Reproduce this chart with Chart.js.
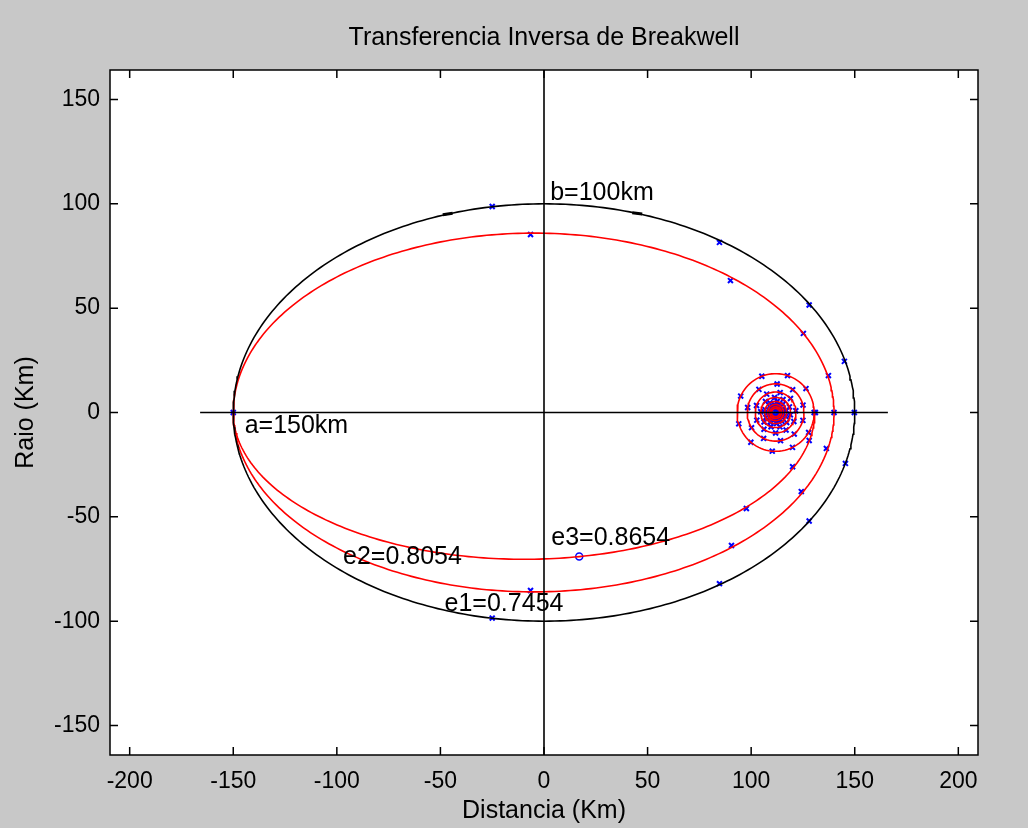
<!DOCTYPE html>
<html>
<head>
<meta charset="utf-8">
<title>Transferencia Inversa de Breakwell</title>
<script src="https://cdn.jsdelivr.net/npm/chart.js@4.4.1/dist/chart.umd.min.js"></script>
<style>
  html, body { margin: 0; padding: 0; background: #c8c8c8; }
  #wrap { width: 1028px; height: 828px; }
</style>
</head>
<body>
<div id="wrap"><canvas id="orbitChart" width="1028" height="828"></canvas></div>
<script>
// Orbit parameters (km)
const semiMajor = 150;
const semiMinor = 100;
const eccentricities = [0.7454, 0.8054, 0.8654];

// Axis ticks
const xTicks = [-200, -150, -100, -50, 0, 50, 100, 150, 200];
const yTicks = [-150, -100, -50, 0, 50, 100, 150];

// Sampled positions along each orbit
const e1Marks = [[-25, 98.7], [84.7, 81.5], [128, 51.5], [145, 24.5], [149.8, 0], [145.5, -24.4], [128, -52], [84.7, -82], [-25, -98.5], [-150, 0]];
const e2Marks = [[-6.5, 85.3], [90, 63.2], [125.2, 37.9], [137.3, 17.7], [140, 0], [136.3, -17.2], [124.2, -37.9], [90.5, -63.7], [-6.5, -85.3]];
const e3Marks = [[97.7, -46], [120, -26], [128, -13.4], [131, 0]];
const e3Start = [[17, -69]];
// short dark dashes on the outer orbit
const e1Dashes = [[-46.5, 95.1, -8], [45, 95.4, 8]];

// Final rings around the focus (radius in km)
const ringRadii = [18.6, 13.7, 9.8, 7.2, 5.3, 3.9, 2.8, 2.0];
const ringMarkAngles = [0, 38, 72, 111, 155, 197, 230, 265, 296, 329];
const ringMarkShift = [0, 15, 5, 22, 10, 27, 8, 18];

// Text annotations (left edge, vertical middle)
const annotations = [
  { text: "b=100km", x: 3, y: 105 },
  { text: "a=150km", x: -144.5, y: -6.7 },
  { text: "e3=0.8654", x: 3.5, y: -60 },
  { text: "e2=0.8054", x: -97, y: -69.5 },
  { text: "e1=0.7454", x: -48, y: -92 },
];

// All orbits share the focus and the apoapsis at x = -a
const focusX = Math.sqrt(semiMajor * semiMajor - semiMinor * semiMinor);
const apoDist = semiMajor + focusX;

function orbit(e, fromDeg, toDeg) {
  const A = apoDist / (1 + e);
  const B = A * Math.sqrt(1 - e * e);
  const xc = focusX - A * e;
  const pts = [];
  for (let d = fromDeg; d <= toDeg; d += 1) {
    const t = (d * Math.PI) / 180;
    pts.push({ x: xc + A * Math.cos(t), y: B * Math.sin(t) });
  }
  return pts;
}

function ring(r) {
  const pts = [];
  for (let d = 0; d <= 360; d += 4) {
    const t = (d * Math.PI) / 180;
    pts.push({ x: focusX + r * Math.cos(t), y: r * Math.sin(t) });
  }
  return pts;
}

const toXY = (arr) => arr.map((p) => ({ x: p[0], y: p[1] }));

const ringMarks = [];
ringRadii.forEach((r, i) => {
  ringMarkAngles.forEach((a) => {
    const t = ((a + ringMarkShift[i]) * Math.PI) / 180;
    ringMarks.push({ x: focusX + r * Math.cos(t), y: r * Math.sin(t) });
  });
});

const lineStyle = { showLine: true, pointRadius: 0, fill: false, tension: 0, borderWidth: 1.6 };

// Data Block
const datasets = [
  { ...lineStyle, data: [{ x: -166, y: 0 }, { x: 166, y: 0 }], borderColor: "#000" },
  { ...lineStyle, data: [{ x: 0, y: -165 }, { x: 0, y: 165 }], borderColor: "#000" },
  { ...lineStyle, data: orbit(eccentricities[0], 0, 360), borderColor: "#000" },
  { ...lineStyle, data: orbit(eccentricities[1], 0, 360), borderColor: "#ff0000" },
  { ...lineStyle, data: orbit(eccentricities[2], 180, 360), borderColor: "#ff0000" },
];
ringRadii.forEach((r) => {
  datasets.push({ ...lineStyle, data: ring(r), borderColor: "#ff0000" });
});
datasets.push({
  data: e1Dashes.map((p) => ({ x: p[0], y: p[1] })),
  showLine: false, pointStyle: "line", pointRadius: 5, borderWidth: 3,
  rotation: e1Dashes.map((p) => p[2]),
  borderColor: "#000",
});
datasets.push({
  data: toXY(e1Marks).concat(toXY(e2Marks), toXY(e3Marks), ringMarks),
  showLine: false, pointStyle: "crossRot", pointRadius: 3.5, borderWidth: 2,
  borderColor: "#0000ff", backgroundColor: "#0000ff",
});
datasets.push({
  data: toXY(e3Start),
  showLine: false, pointStyle: "circle", pointRadius: 3.5, borderWidth: 1.5,
  borderColor: "#0000ff", backgroundColor: "rgba(0,0,0,0)",
});
datasets.push({
  data: [{ x: focusX, y: 0 }],
  showLine: false, pointStyle: "cross", pointRadius: 6, borderWidth: 2.5,
  borderColor: "#00ff00",
});

// Figure background, boxed axes with inward ticks, title and text labels
const figurePlugin = {
  id: "figure",
  beforeDraw(chart) {
    const { ctx, chartArea: a } = chart;
    ctx.save();
    ctx.fillStyle = "#c8c8c8";
    ctx.fillRect(0, 0, chart.width, chart.height);
    ctx.fillStyle = "#ffffff";
    ctx.fillRect(a.left, a.top, a.right - a.left, a.bottom - a.top);
    ctx.restore();
  },
  afterDraw(chart) {
    const { ctx, chartArea: a, scales } = chart;
    const tick = 8;
    ctx.save();
    ctx.strokeStyle = "#000";
    ctx.lineWidth = 1.5;
    ctx.strokeRect(a.left, a.top, a.right - a.left, a.bottom - a.top);
    ctx.beginPath();
    xTicks.forEach((v) => {
      const px = scales.x.getPixelForValue(v);
      ctx.moveTo(px, a.bottom); ctx.lineTo(px, a.bottom - tick);
      ctx.moveTo(px, a.top); ctx.lineTo(px, a.top + tick);
    });
    yTicks.forEach((v) => {
      const py = scales.y.getPixelForValue(v);
      ctx.moveTo(a.left, py); ctx.lineTo(a.left + tick, py);
      ctx.moveTo(a.right, py); ctx.lineTo(a.right - tick, py);
    });
    ctx.stroke();

    ctx.fillStyle = "#000";
    ctx.font = "25px 'Liberation Sans', Arial, sans-serif";
    ctx.textBaseline = "middle";
    ctx.textAlign = "center";
    ctx.fillText("Transferencia Inversa de Breakwell", (a.left + a.right) / 2, 38);

    ctx.textAlign = "left";
    annotations.forEach((t) => {
      ctx.fillText(t.text, scales.x.getPixelForValue(t.x), scales.y.getPixelForValue(t.y));
    });
    ctx.restore();
  },
};

// Config Block
const config = {
  type: "scatter",
  data: { datasets: datasets },
  options: {
    responsive: false,
    animation: false,
    events: [],
    layout: { padding: { top: 70, right: 50, left: 0, bottom: 0 } },
    plugins: { legend: { display: false }, tooltip: { enabled: false }, title: { display: false } },
    scales: {
      x: {
        type: "linear",
        min: -209.5,
        max: 209.5,
        grid: { display: false, drawTicks: false },
        border: { display: false },
        afterBuildTicks: (scale) => { scale.ticks = xTicks.map((v) => ({ value: v })); },
        afterFit: (scale) => { scale.height = 73; },
        ticks: { includeBounds: false, color: "#000", padding: 13, maxRotation: 0, font: { size: 23 } },
        title: { display: true, text: "Distancia (Km)", color: "#000", font: { size: 25 }, padding: { top: 0, bottom: 2 } },
      },
      y: {
        type: "linear",
        min: -164.1,
        max: 164.1,
        grid: { display: false, drawTicks: false },
        border: { display: false },
        afterBuildTicks: (scale) => { scale.ticks = yTicks.map((v) => ({ value: v })); },
        afterFit: (scale) => { scale.width = 110; },
        ticks: { includeBounds: false, color: "#000", padding: 10, font: { size: 23 } },
        title: { display: true, text: "Raio (Km)", color: "#000", font: { size: 25 }, padding: { top: 11, bottom: 0 } },
      },
    },
  },
  plugins: [figurePlugin],
};

Chart.defaults.font.family = "'Liberation Sans', Arial, sans-serif";

// Render Block
const orbitChart = new Chart(document.getElementById("orbitChart"), config);
</script>
</body>
</html>
